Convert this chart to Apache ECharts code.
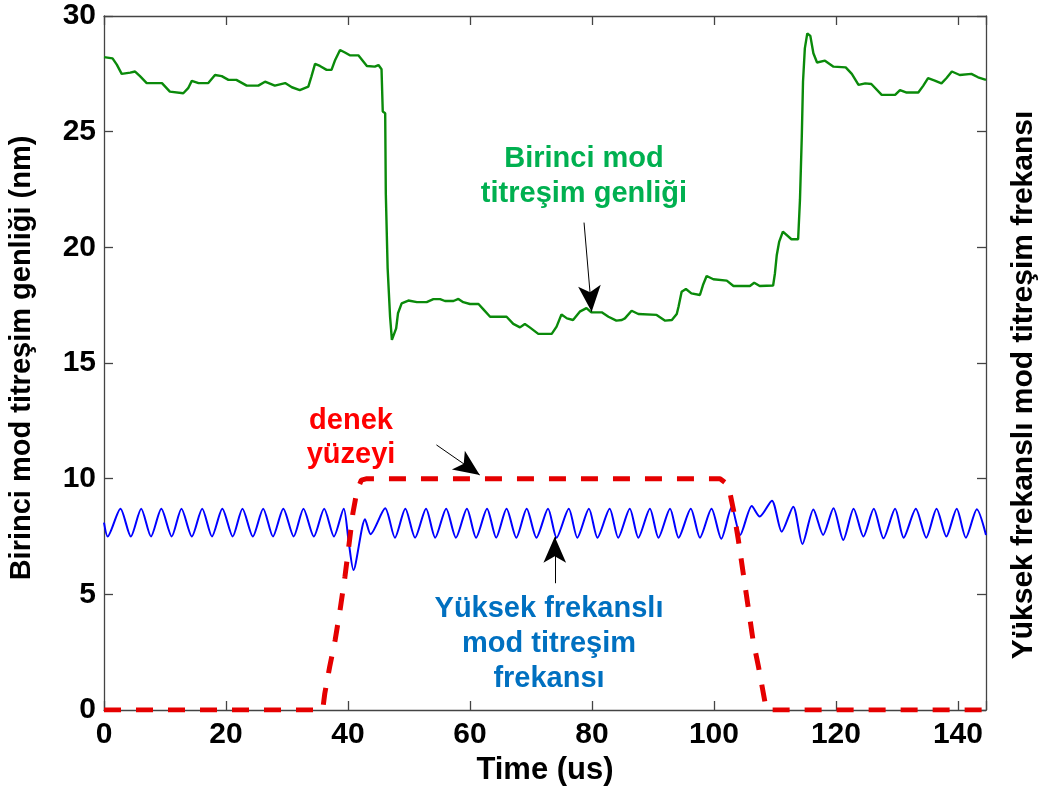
<!DOCTYPE html>
<html>
<head>
<meta charset="utf-8">
<script src="https://cdn.jsdelivr.net/npm/echarts@6/dist/echarts.min.js"></script>
<style>html,body{margin:0;padding:0;background:#fff;}#c{width:1044px;height:794px;}</style>
</head>
<body>
<div id="c"></div>
<script>
// ---- data (time in us, value) ----
const xTicks = [0, 20, 40, 60, 80, 100, 120, 140];
const yTicks = [0, 5, 10, 15, 20, 25, 30];

const firstMode = [
  [0, 28.22], [1.4, 28.17], [2.1, 27.9], [2.9, 27.5], [4.3, 27.55], [5.1, 27.6], [5.9, 27.4], [7.0, 27.1],
  [9.5, 27.1], [10.8, 26.73], [13.0, 26.66], [13.8, 26.88], [14.4, 27.2], [15.5, 27.1], [17.1, 27.1],
  [18.2, 27.45], [19.3, 27.4], [20.4, 27.24], [21.7, 27.24], [23.4, 26.99], [25.3, 26.99], [26.4, 27.16],
  [28.0, 26.99], [29.7, 27.1], [30.8, 26.92], [32.1, 26.8], [33.5, 26.95], [34.0, 27.38], [34.6, 27.93],
  [35.4, 27.84], [36.5, 27.67], [37.3, 27.67], [37.9, 28.1], [38.7, 28.53], [39.5, 28.42], [40.3, 28.3],
  [41.7, 28.3], [43.1, 27.84], [44.4, 27.81], [45.0, 27.88], [45.5, 27.7], [45.7, 25.87], [46.1, 25.8],
  [46.2, 22.34], [46.4, 22.26], [46.5, 19.1], [46.8, 19.02], [46.9, 17.0], [47.2, 16.0], [47.4, 16.05],
  [47.9, 16.5], [48.2, 17.15], [48.8, 17.58], [49.9, 17.7], [51.3, 17.63], [52.9, 17.63], [54.0, 17.76],
  [55.1, 17.76], [55.9, 17.68], [57.3, 17.68], [58.1, 17.77], [58.9, 17.63], [60.0, 17.55], [61.4, 17.55],
  [62.2, 17.32], [63.3, 17.0], [66.0, 17.0], [67.1, 16.69], [68.2, 16.54], [69.0, 16.69], [69.8, 16.54],
  [71.2, 16.26], [73.4, 16.26], [74.2, 16.57], [75.0, 17.1], [75.9, 16.93], [76.9, 16.86], [78.0, 17.22],
  [79.1, 17.37], [79.9, 17.19], [81.6, 17.19], [82.7, 17.0], [84.0, 16.83], [84.9, 16.86], [85.4, 16.93],
  [86.5, 17.26], [87.6, 17.12], [90.6, 17.08], [92.0, 16.83], [93.1, 16.86], [93.9, 17.12], [94.2, 17.44],
  [94.7, 18.08], [95.4, 18.2], [96.3, 18.01], [97.7, 17.94], [98.2, 18.37], [98.8, 18.76], [99.9, 18.62],
  [102.1, 18.56], [103.2, 18.33], [105.9, 18.33], [106.6, 18.47], [107.5, 18.33], [109.7, 18.35],
  [110.0, 18.88], [110.3, 19.67], [110.7, 20.25], [111.3, 20.68], [112.7, 20.35], [113.8, 20.35],
  [114.1, 22.05], [114.4, 24.79], [114.6, 27.16], [114.9, 28.6], [115.3, 29.25], [115.8, 29.14],
  [116.3, 28.39], [116.9, 27.99], [118.2, 28.07], [119.6, 27.81], [121.6, 27.78], [122.6, 27.5],
  [123.7, 27.02], [124.8, 27.09], [125.8, 27.06], [127.5, 26.59], [129.7, 26.59], [130.5, 26.8],
  [131.6, 26.69], [133.5, 26.69], [134.3, 26.98], [135.1, 27.31], [136.2, 27.21], [137.3, 27.09],
  [138.1, 27.31], [139.0, 27.6], [140.3, 27.45], [142.2, 27.5], [143.3, 27.35], [144.6, 27.24]
];

const highFreq = [
  [0, 8.1], [0.6, 7.5], [2.7, 8.7], [4.4, 7.5], [6.1, 8.7], [7.7, 7.5], [9.4, 8.7], [11.1, 7.5],
  [12.7, 8.7], [14.4, 7.5], [16.1, 8.7], [17.7, 7.5], [19.4, 8.7], [21.1, 7.5], [22.7, 8.7], [24.4, 7.5],
  [26.1, 8.7], [27.7, 7.5], [29.4, 8.7], [31.1, 7.5], [32.7, 8.7], [34.4, 7.5], [36.1, 8.7], [37.7, 7.5],
  [39.3, 8.7], [40.1, 7.3], [40.9, 6.05], [42.8, 8.25], [43.7, 7.6], [46.1, 8.72], [47.7, 7.45],
  [49.4, 8.7], [51.0, 7.45], [52.8, 8.7], [54.3, 7.45], [56.1, 8.7], [57.7, 7.45], [59.5, 8.7],
  [61.0, 7.45], [62.8, 8.7], [64.3, 7.45], [66.0, 8.7], [67.6, 7.45], [69.3, 8.7], [70.9, 7.45],
  [72.8, 8.7], [74.2, 7.45], [76.2, 8.7], [77.6, 7.45], [79.5, 8.7], [80.9, 7.45], [82.9, 8.7],
  [84.3, 7.45], [86.2, 8.7], [87.6, 7.45], [89.5, 8.7], [90.9, 7.45], [92.8, 8.7], [94.2, 7.45],
  [96.2, 8.7], [97.7, 7.45], [99.6, 8.7], [101.2, 7.4], [102.9, 8.76], [104.3, 7.57], [106.2, 8.82],
  [107.5, 8.36], [109.5, 9.05], [111.1, 7.71], [113.0, 8.79], [114.5, 7.18], [116.3, 8.67],
  [117.9, 7.57], [119.6, 8.72], [121.2, 7.35], [122.9, 8.7], [124.5, 7.5], [126.2, 8.7], [127.8, 7.42],
  [129.7, 8.7], [131.1, 7.45], [133.1, 8.7], [134.8, 7.45], [136.5, 8.7], [138.1, 7.5], [139.8, 8.7],
  [141.3, 7.45], [143.1, 8.68], [144.6, 7.57]
];

const surface = [
  [0, 0], [35.85, 0], [36.2, 0.72], [37.0, 1.87], [37.9, 3.03], [38.7, 4.32], [39.5, 5.76], [40.05, 6.9],
  [40.8, 8.5], [41.5, 9.51], [42.2, 9.94], [43.1, 10.0], [101.0, 10.0], [102.35, 9.73], [103.2, 8.65],
  [104.0, 7.35], [104.8, 5.91], [105.6, 4.47], [106.4, 3.03], [107.3, 1.87], [108.1, 0.72], [108.6, 0.0],
  [144.6, 0]
];

// annotation arrows: [from, to] in data coords
const arrowFirst = [[78.7, 21.07], [79.95, 17.22]];
const arrowSurface = [[54.5, 11.46], [61.6, 10.16]];
const arrowHigh = [[73.9, 5.48], [73.9, 7.49]];

const xMax = 144.6;
const FONT = '"Liberation Sans", Arial, sans-serif';

const chart = echarts.init(document.getElementById('c'), null, {renderer: 'canvas'});

function arrowMark(a) {
  return {
    silent: true,
    symbol: ['none', 'arrow'],
    symbolSize: [17, 26],
    label: {show: false},
    lineStyle: {color: '#000', width: 1, type: 'solid'},
    itemStyle: {color: '#000'},
    data: [[{coord: a[0]}, {coord: a[1]}]]
  };
}

const axisLineStyle = () => ({color: '#444', width: 1.3});
const tickIn = () => ({show: true, inside: false, length: -9, lineStyle: axisLineStyle()});

chart.setOption({
  animation: false,
  backgroundColor: '#fff',
  grid: {left: 104, right: 58, top: 16, bottom: 84, containLabel: false},
  xAxis: [
    {
      type: 'value', min: 0, max: xMax, interval: 20, position: 'bottom',
      name: 'Time (us)', nameLocation: 'middle', nameGap: 44,
      nameTextStyle: {fontFamily: FONT, fontWeight: 'bold', fontSize: 31, color: '#000'},
      axisLine: {show: true, onZero: false, lineStyle: axisLineStyle()},
      axisTick: tickIn(),
      axisLabel: {fontFamily: FONT, fontWeight: 'bold', fontSize: 30, color: '#000', margin: 10,
        formatter: v => xTicks.includes(v) ? String(v) : ''},
      splitLine: {show: false}
    },
    {
      type: 'value', min: 0, max: xMax, interval: 20, position: 'top',
      axisLine: {show: true, onZero: false, lineStyle: axisLineStyle()},
      axisTick: tickIn(),
      axisLabel: {show: false},
      splitLine: {show: false}
    }
  ],
  yAxis: [
    {
      type: 'value', min: 0, max: 30, interval: 5, position: 'left',
      axisLine: {show: true, onZero: false, lineStyle: axisLineStyle()},
      axisTick: tickIn(),
      axisLabel: {fontFamily: FONT, fontWeight: 'bold', fontSize: 30, color: '#000', margin: 8,
        formatter: v => yTicks.includes(v) ? String(v) : ''},
      splitLine: {show: false}
    },
    {
      type: 'value', min: 0, max: 30, interval: 5, position: 'right',
      axisLine: {show: true, onZero: false, lineStyle: axisLineStyle()},
      axisTick: tickIn(),
      axisLabel: {show: false},
      splitLine: {show: false}
    }
  ],
  series: [
    {
      name: 'Birinci mod titreşim genliği', type: 'line', data: firstMode,
      xAxisIndex: 0, yAxisIndex: 0, showSymbol: false, symbol: 'none',
      lineStyle: {color: '#0a8a0a', width: 2.4}, z: 3,
      markLine: arrowMark(arrowFirst)
    },
    {
      name: 'Yüksek frekanslı mod titreşim frekansı', type: 'line', data: highFreq,
      xAxisIndex: 0, yAxisIndex: 0, showSymbol: false, symbol: 'none', smooth: 0.25,
      lineStyle: {color: '#0000ff', width: 2}, z: 3,
      markLine: arrowMark(arrowHigh)
    },
    {
      name: 'denek yüzeyi', type: 'line', data: surface,
      xAxisIndex: 0, yAxisIndex: 0, showSymbol: false, symbol: 'none',
      lineStyle: {color: '#e50000', width: 5, type: [17, 15]}, z: 4,
      markLine: arrowMark(arrowSurface)
    },
    {
      name: 'frame', type: 'line', data: [], xAxisIndex: 1, yAxisIndex: 1,
      showSymbol: false, silent: true
    }
  ],
  graphic: [
    {type: 'text', x: 22, y: 358, rotation: Math.PI / 2,
      style: {text: 'Birinci mod titreşim genliği (nm)', fill: '#000', font: 'bold 29px ' + FONT,
        align: 'center', verticalAlign: 'middle'}},
    {type: 'text', x: 1024, y: 385, rotation: Math.PI / 2,
      style: {text: 'Yüksek frekanslı mod titreşim frekansı', fill: '#000', font: 'bold 30px ' + FONT,
        align: 'center', verticalAlign: 'middle'}},
    {type: 'text', x: 584, y: 176,
      style: {text: 'Birinci mod\ntitreşim genliği', fill: '#00b050', font: 'bold 29px ' + FONT,
        align: 'center', verticalAlign: 'middle', lineHeight: 35}},
    {type: 'text', x: 351, y: 438,
      style: {text: 'denek\nyüzeyi', fill: '#ff0000', font: 'bold 29px ' + FONT,
        align: 'center', verticalAlign: 'middle', lineHeight: 34}},
    {type: 'text', x: 549, y: 644,
      style: {text: 'Yüksek frekanslı\nmod titreşim\nfrekansı', fill: '#0070c0', font: 'bold 29px ' + FONT,
        align: 'center', verticalAlign: 'middle', lineHeight: 35}}
  ]
});
</script>
</body>
</html>
